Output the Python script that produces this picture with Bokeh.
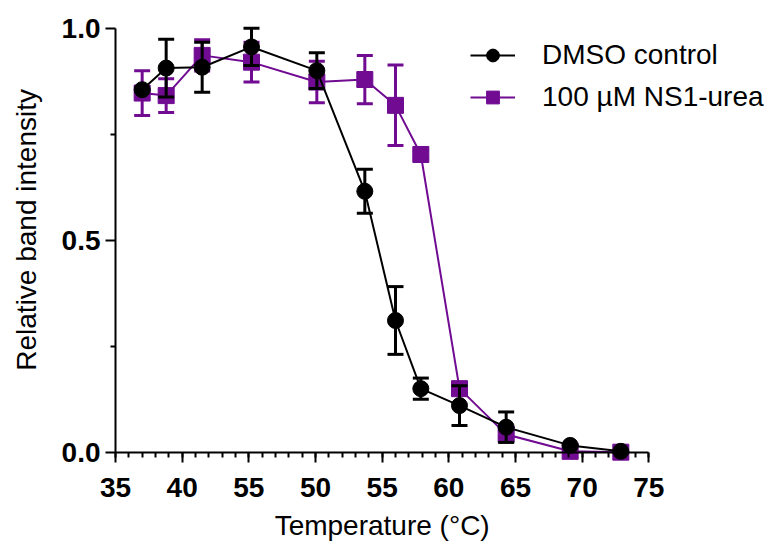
import math
from bokeh.plotting import figure
from bokeh.models import (Range1d, FixedTicker, Legend, LegendItem, Label,
                          ColumnDataSource, CustomLabelingPolicy)
from bokeh.core.properties import value
from bokeh.embed import file_html
from bokeh.resources import INLINE

# ---- data ----
temperature = [37.0, 38.8, 41.5, 45.2, 50.1, 53.7, 56.0, 57.9, 60.8, 64.3, 69.1, 72.9]
dmso_mean = [0.856, 0.907, 0.909, 0.957, 0.901, 0.616, 0.311, 0.150, 0.110, 0.059, 0.016, 0.002]
dmso_err = [0.0, 0.068, 0.059, 0.044, 0.042, 0.052, 0.080, 0.025, 0.047, 0.036, 0.0, 0.0]
ns1_mean = [0.848, 0.842, 0.937, 0.921, 0.874, 0.880, 0.819, 0.703, 0.150, 0.042, 0.002, 0.0]
ns1_err = [0.053, 0.040, 0.037, 0.047, 0.049, 0.057, 0.095, 0.010, 0.012, 0.008, 0.0, 0.0]

x_tick_values = [35, 40, 45, 50, 55, 60, 65, 70, 75]
x_tick_labels = ["35", "40", "55", "50", "55", "60", "65", "70", "75"]
x_minor_values = list(range(35, 76))
y_tick_values = [0.0, 0.5, 1.0]
y_tick_labels = ["0.0", "0.5", "1.0"]
y_minor_values = [0.25, 0.75]

series_names = ["DMSO control", "100 µM NS1-urea"]
x_title = "Temperature (°C)"
y_title = "Relative band intensity"

BLACK = "#000000"
PURPLE = "#700b92"
FONT = "Liberation Sans"

W, H = 780, 547
FRAME_LEFT, FRAME_TOP = 10, 6
X35_PIX = 115                 # pixel column of 35 °C (the y axis)
PX_X = 13.333                 # pixels per °C
PX_Y = 423.4                  # pixels per unit of intensity
Y0_PIX = 451.7                # pixel row of intensity 0

x_start = 35 - (X35_PIX - FRAME_LEFT) / PX_X
x_end = 35 + (W - X35_PIX) / PX_X
y_end = 1.0 + (28.2 - FRAME_TOP) / PX_Y
y_start = -(H - Y0_PIX) / PX_Y

p = figure(width=W, height=H,
           x_range=Range1d(x_start, x_end), y_range=Range1d(y_start, y_end),
           x_axis_location="above", y_axis_location="left",
           output_backend="svg", toolbar_location=None,
           min_border_left=FRAME_LEFT, min_border_right=0,
           min_border_top=FRAME_TOP, min_border_bottom=0)
p.grid.visible = False
p.outline_line_color = None
p.background_fill_color = "white"
p.border_fill_color = "white"


def make_source(mean, err):
    return ColumnDataSource(dict(
        x=temperature, y=mean,
        lo=[m - e for m, e in zip(mean, err)],
        hi=[m + e for m, e in zip(mean, err)],
    ))


src_ns1 = make_source(ns1_mean, ns1_err)
src_dmso = make_source(dmso_mean, dmso_err)

renderers = {}
for key, src, color, marker in [("ns1", src_ns1, PURPLE, "square"),
                                ("dmso", src_dmso, BLACK, "circle")]:
    p.segment(x0="x", y0="lo", x1="x", y1="hi", source=src, line_color=color, line_width=3)
    p.scatter(x="x", y="hi", source=src, marker="dash", size=16, line_color=color, line_width=3)
    p.scatter(x="x", y="lo", source=src, marker="dash", size=16, line_color=color, line_width=3)
    ln = p.line(x="x", y="y", source=src, line_color=color, line_width=2)
    pts = p.scatter(x="x", y="y", source=src, marker=marker, size=16,
                    fill_color=color, line_color=color, line_width=1)
    renderers[key] = (ln, pts)

no_labels = CustomLabelingPolicy(code="""
    for (const i of Array.from(indices)) { indices.unset(i) }
    return indices
""")

# ---- x axis: line at intensity 0, ticks pointing down ----
xax = p.xaxis[0]
xax.fixed_location = 0
xax.bounds = (35, 75)
xax.ticker = FixedTicker(ticks=x_tick_values, minor_ticks=x_minor_values)
xax.major_tick_in = 10
xax.major_tick_out = 0
xax.minor_tick_in = 5
xax.minor_tick_out = 0

# ---- y axis: line at 35 °C, ticks pointing left ----
yax = p.yaxis[0]
yax.fixed_location = 35
yax.bounds = (0, 1)
yax.ticker = FixedTicker(ticks=y_tick_values, minor_ticks=y_minor_values)
yax.major_tick_out = 10
yax.major_tick_in = 0
yax.minor_tick_out = 5
yax.minor_tick_in = 0

for ax in (xax, yax):
    ax.axis_line_color = "black"
    ax.axis_line_width = 2
    ax.major_tick_line_color = "black"
    ax.major_tick_line_width = 2
    ax.minor_tick_line_color = "black"
    ax.minor_tick_line_width = 2
    ax.major_label_text_font_size = "0px"
    ax.major_label_standoff = 0
    ax.major_label_policy = no_labels

# tick labels and titles drawn as text
tick_font = dict(text_font=value(FONT), text_font_style="bold", text_font_size="28px",
                 text_color="black", text_baseline="middle")
p.text(x=x_tick_values, y=[-0.083] * len(x_tick_values), text=x_tick_labels,
       text_align="center", **tick_font)
p.text(x=[35 - 15 / PX_X] * len(y_tick_values), y=y_tick_values, text=y_tick_labels,
       text_align="right", **tick_font)

p.add_layout(Label(x=55, y=-0.173, text=x_title, text_align="center",
                   text_baseline="middle", text_font=FONT, text_font_size="28px",
                   text_color="black"))
p.add_layout(Label(x=35 - (X35_PIX - 26) / PX_X, y=0.525, text=y_title, angle=math.pi / 2,
                   text_align="center", text_baseline="middle", text_font=FONT,
                   text_font_size="28px", text_color="black"))

legend = Legend(items=[LegendItem(label=series_names[0], renderers=list(renderers["dmso"])),
                       LegendItem(label=series_names[1], renderers=list(renderers["ns1"]))],
                location=(470 - FRAME_LEFT, 434))
legend.label_text_font = FONT
legend.label_text_font_size = "28px"
legend.label_text_color = "black"
legend.glyph_width = 45
legend.glyph_height = 32
legend.label_height = 32
legend.label_standoff = 27
legend.spacing = 10
legend.padding = 0
legend.margin = 0
legend.border_line_alpha = 0
legend.background_fill_alpha = 0
p.add_layout(legend)

open("out.html", "w").write(file_html(p, INLINE))
